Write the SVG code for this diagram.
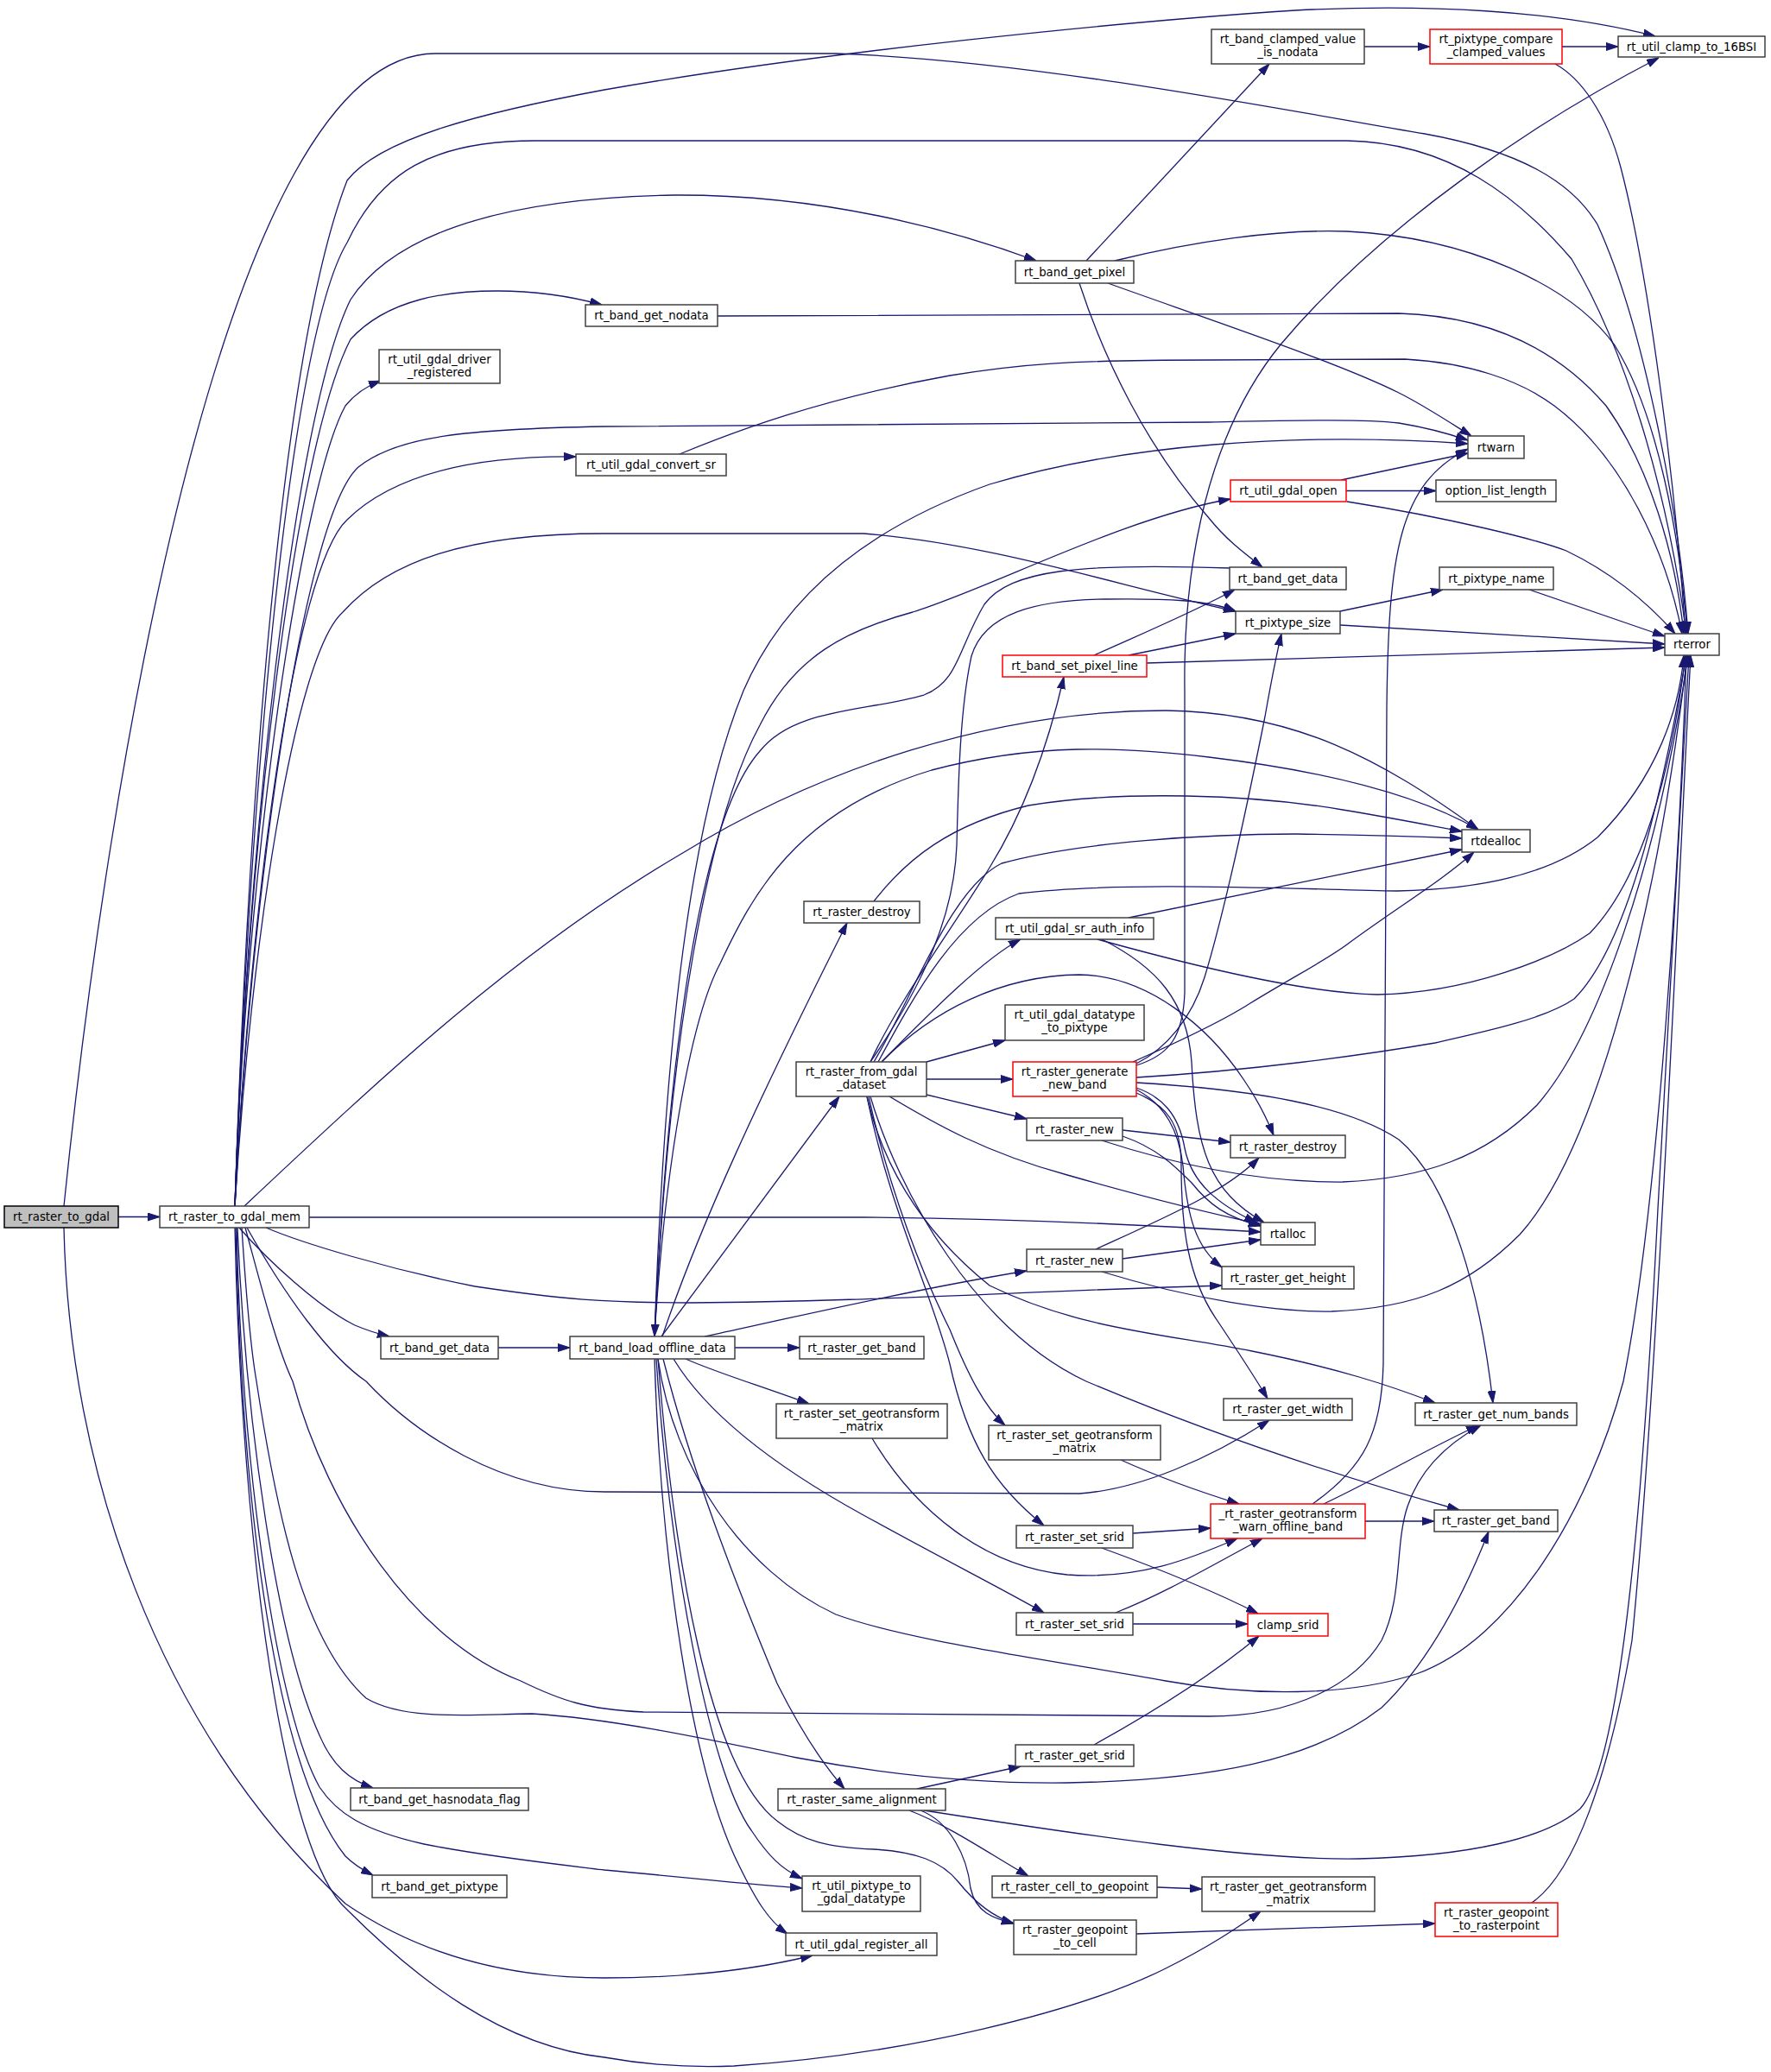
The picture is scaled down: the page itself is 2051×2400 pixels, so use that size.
<svg xmlns="http://www.w3.org/2000/svg" width="2051" height="2400" viewBox="0 0 2051 2400">
<defs>
<marker id="a" markerWidth="14" markerHeight="10" refX="14" refY="5" orient="auto" markerUnits="userSpaceOnUse"><path d="M0,0.5 L14,5 L0,9.5 z" fill="#191970" stroke="#191970" stroke-width="1"/></marker>
<style>
.n rect{fill:#fff;stroke:#404040;stroke-width:1.5}
.n.r rect{stroke:#f00}
.n.root rect{fill:#bfbfbf;stroke:#000}
text{font-family:"DejaVu Sans","Liberation Sans",sans-serif;font-size:13.3px;text-anchor:middle;fill:#000}
#edges path{fill:none;stroke:#191970;stroke-width:1.3;marker-end:url(#a)}
</style>
</defs>
<rect x="0" y="0" width="2051" height="2400" fill="#fff"/>
<g id="edges">
<path d="M137,1409.5 L185,1409.5"/>
<path d="M74,1397 C125,900 260,62 504,62 L968,62 C1200,70 1500,130 1650,155 C1760,175 1820,210 1850,260 C1905,380 1945,600 1955,734"/>
<path d="M74,1422 C80,1700 180,2000 400,2205 C480,2260 580,2291 700,2291 C800,2291 880,2280 941,2265"/>
<path d="M272,1397 C285,1000 320,420 402,209 C440,160 560,130 700,104 C950,60 1300,25 1500,12 C1650,4 1800,12 1917,42"/>
<path d="M272,1397 C285,1000 330,400 402,281 C440,200 500,163 620,163 L1560,163 C1680,165 1760,230 1820,300 C1880,400 1930,560 1953,734"/>
<path d="M272,1397 C285,1000 340,480 406,347 C450,280 560,230 780,226 C950,225 1100,265 1200,302"/>
<path d="M272,1397 C285,1000 340,520 406,393 C450,345 520,337 576,337 C620,337 660,343 697,353"/>
<path d="M272,1397 C285,1000 350,560 400,470 C412,455 425,447 441,441"/>
<path d="M272,1397 C290,1050 350,600 415,541 C460,505 540,497 700,494 L1400,489 C1500,487 1580,485 1620,490 C1650,495 1680,503 1700,510"/>
<path d="M272,1397 C290,1050 340,660 402,602 C460,545 560,528 667,529"/>
<path d="M272,1397 C290,1100 340,760 397,709 C450,650 540,618 700,618 L1000,618 C1150,630 1300,680 1431,708"/>
<path d="M283,1397 C450,1240 600,1100 789,989 C950,890 1150,823 1350,823 C1500,825 1600,880 1712,961"/>
<path d="M358,1410 L1000,1410 C1200,1412 1350,1420 1460,1427"/>
<path d="M308,1422 C350,1440 450,1470 550,1490 C650,1505 700,1509 800,1509 C1000,1508 1200,1495 1415,1489"/>
<path d="M277,1422 C310,1460 370,1515 411,1535 C425,1541 438,1545 451,1548"/>
<path d="M286,1422 C330,1500 380,1570 424,1600 C480,1660 580,1728 700,1728 L1250,1730 C1320,1725 1400,1690 1470,1645"/>
<path d="M284,1422 C300,1480 320,1560 339,1600 C380,1750 480,1900 603,1947 C650,1970 680,1980 745,1983 L1400,1988 C1500,1988 1570,1950 1600,1900 C1625,1850 1615,1790 1630,1745 C1645,1700 1680,1670 1715,1651"/>
<path d="M280,1422 C285,1500 290,1560 297,1600 C320,1750 350,1900 424,1967 C470,1995 560,1985 616,1985 C700,1990 800,2010 923,2036 C1050,2060 1150,2066 1236,2065 C1400,2062 1520,2040 1600,1978 C1650,1930 1690,1860 1724,1774"/>
<path d="M275,1422 C285,1650 320,1900 370,2010 C385,2045 405,2062 432,2071"/>
<path d="M274,1422 C280,1700 320,1980 370,2070 C390,2100 420,2120 491,2136 C560,2150 650,2160 700,2166 C800,2175 870,2183 929,2187"/>
<path d="M273,1422 C280,1750 320,2050 400,2150 C410,2160 420,2166 432,2172"/>
<path d="M272,1422 C280,1800 330,2150 402,2212 C480,2290 580,2370 700,2383 C750,2392 800,2395 850,2393 C1050,2380 1250,2330 1350,2280 C1400,2255 1430,2235 1460,2214"/>
<path d="M577,1561 L660,1561"/>
<path d="M1258,302 L1470,74"/>
<path d="M1291,302 C1380,280 1480,265 1560,268 C1700,275 1820,330 1870,400 C1920,480 1945,620 1954,734"/>
<path d="M1283,328 C1400,370 1550,420 1620,455 C1650,470 1680,490 1704,505"/>
<path d="M1250,328 C1280,420 1330,520 1400,600 C1420,625 1440,640 1462,657"/>
<path d="M831,366 L1620,363 C1720,366 1800,400 1860,470 C1910,540 1940,640 1950,734"/>
<path d="M787,526 C850,500 950,462 1100,435 C1180,422 1236,417 1400,417 L1627,416 C1700,420 1760,440 1800,470 C1880,530 1930,640 1948,734"/>
<path d="M1580,54 L1656,54"/>
<path d="M1809,54 L1874,54"/>
<path d="M1801,74 C1830,90 1860,130 1877,194 C1910,320 1940,560 1952,734"/>
<path d="M1553,556 L1700,525"/>
<path d="M1559,568.5 L1663,568.5"/>
<path d="M1560,581 C1680,600 1780,625 1814,638 C1870,665 1910,700 1940,734"/>
<path d="M1424,658 C1250,652 1170,660 1140,700 C1110,750 1110,790 1070,805 C1000,825 920,820 880,870 C800,960 770,1300 758,1548"/>
<path d="M1771,683 L1928,737"/>
<path d="M1552,708 L1671,683"/>
<path d="M1552,724 L1928,746"/>
<path d="M1267,759 C1320,735 1380,710 1430,683"/>
<path d="M1307,759 L1431,734"/>
<path d="M1328,768 L1928,750"/>
<path d="M1520,1742 C1580,1700 1600,1660 1602,1580 L1606,820 C1608,640 1620,560 1700,520"/>
<path d="M1533,1742 C1600,1710 1650,1680 1712,1651"/>
<path d="M1581,1762 L1661,1762"/>
<path d="M1298,1691 C1340,1710 1380,1725 1435,1742"/>
<path d="M1312,1776 L1402,1770"/>
<path d="M1276,1793 C1350,1820 1410,1845 1457,1869"/>
<path d="M1292,1868 C1350,1845 1400,1815 1462,1782"/>
<path d="M1312,1881 L1445,1881"/>
<path d="M1267,2021 C1350,1975 1410,1935 1458,1895"/>
<path d="M1010,1666 C1060,1750 1140,1815 1236,1824 C1320,1830 1380,1805 1433,1782"/>
<path d="M1062,2072 L1182,2046"/>
<path d="M1070,2097 C1250,2125 1450,2155 1573,2153 C1700,2150 1790,2130 1830,2095 C1880,2040 1905,1700 1920,1400 C1935,1100 1950,900 1956,759"/>
<path d="M1053,2097 C1100,2115 1150,2150 1191,2173"/>
<path d="M1066,2097 C1100,2110 1120,2150 1124,2187 C1130,2215 1150,2222 1174,2228"/>
<path d="M1340,2186 L1392,2188"/>
<path d="M1316,2240 L1662,2228"/>
<path d="M1774,2204 C1823,2170 1863,2059 1890,1900 C1920,1600 1945,1000 1958,759"/>
<path d="M1021,1230 C1080,1170 1140,1110 1182,1088"/>
<path d="M1073,1230 L1164,1205"/>
<path d="M1073,1250 L1173,1250"/>
<path d="M1073,1268 L1189,1296"/>
<path d="M1021,1230 C1080,1170 1160,1130 1250,1129 C1330,1130 1400,1190 1440,1250 C1455,1272 1465,1290 1475,1315"/>
<path d="M1012,1230 C1060,1150 1100,1030 1160,1000 C1250,975 1400,966 1500,966 C1580,967 1640,969 1693,971"/>
<path d="M1017,1230 C1060,1150 1110,1060 1180,1035 C1300,1020 1500,1030 1618,1032 C1720,1030 1800,1010 1850,970 C1920,900 1945,820 1950,759"/>
<path d="M1008,1230 C1070,1140 1105,1060 1108,979 C1110,900 1112,820 1125,760 C1140,710 1200,695 1280,694 C1350,693 1400,695 1431,708"/>
<path d="M1008,1230 C1040,1160 1100,1080 1146,1005 C1180,950 1210,880 1232,784"/>
<path d="M1006,1270 C1030,1380 1070,1480 1100,1540 C1120,1590 1140,1630 1164,1651"/>
<path d="M1004,1270 C1030,1400 1080,1500 1100,1580 C1120,1670 1150,1720 1209,1767"/>
<path d="M1004,1270 C1020,1340 1060,1420 1146,1489 C1250,1540 1350,1545 1450,1565 C1550,1585 1610,1605 1662,1625"/>
<path d="M1008,1270 C1040,1380 1130,1540 1258,1600 C1400,1660 1550,1710 1690,1749"/>
<path d="M1030,1270 C1080,1300 1140,1335 1236,1361 C1320,1385 1400,1405 1460,1418"/>
<path d="M1307,1063 L1693,984"/>
<path d="M1271,1088 C1350,1110 1500,1150 1595,1152 C1700,1150 1800,1110 1841,1081 C1900,1020 1935,900 1952,759"/>
<path d="M1276,1088 C1340,1120 1375,1160 1380,1230 C1385,1330 1400,1380 1464,1416"/>
<path d="M1316,1234 C1355,1222 1370,1200 1372,1150 L1372,800 C1370,650 1400,500 1484,398 C1600,260 1780,140 1921,67"/>
<path d="M1316,1232 C1350,1215 1380,1180 1395,1132 C1420,1050 1445,930 1465,830 C1472,790 1478,760 1484,734"/>
<path d="M1312,1230 C1380,1200 1420,1180 1448,1162 C1500,1130 1540,1110 1564,1091 C1620,1050 1670,1020 1707,987"/>
<path d="M1316,1248 C1450,1240 1580,1222 1662,1208 C1720,1195 1790,1180 1823,1157 C1880,1100 1920,950 1953,759"/>
<path d="M1316,1254 C1450,1262 1560,1280 1620,1320 C1680,1370 1715,1500 1729,1625"/>
<path d="M1316,1260 C1345,1270 1365,1290 1372,1330 C1380,1370 1410,1395 1455,1416"/>
<path d="M1316,1262 C1350,1280 1365,1310 1370,1350 C1375,1410 1385,1445 1415,1468"/>
<path d="M1316,1266 C1350,1280 1368,1300 1368,1350 C1368,1420 1375,1480 1410,1530 C1430,1560 1450,1590 1468,1620"/>
<path d="M1300,1309 L1425,1323"/>
<path d="M1300,1316 C1340,1330 1360,1350 1380,1370 C1400,1395 1420,1410 1460,1420"/>
<path d="M1276,1321 C1350,1345 1450,1370 1555,1369 C1650,1365 1720,1340 1780,1280 C1850,1200 1920,1000 1955,759"/>
<path d="M1269,1447 C1350,1410 1420,1380 1458,1341"/>
<path d="M1300,1458 L1460,1436"/>
<path d="M1276,1473 C1380,1505 1480,1520 1542,1519 C1640,1515 1700,1490 1760,1430 C1850,1330 1920,1050 1954,759"/>
<path d="M1012,1044 C1050,995 1100,955 1191,933 C1300,915 1450,920 1555,938 C1610,947 1650,955 1693,963"/>
<path d="M851,1561 L926,1561"/>
<path d="M816,1548 C900,1530 1050,1495 1189,1472"/>
<path d="M767,1548 C810,1420 880,1270 981,1069"/>
<path d="M766,1548 L972,1270"/>
<path d="M758,1548 C770,1200 800,950 861,800 C900,710 980,620 1146,561 C1300,515 1500,500 1700,514"/>
<path d="M758,1548 C775,1200 820,950 880,840 C920,760 980,730 1057,709 C1150,680 1300,600 1425,578"/>
<path d="M758,1548 C770,1350 800,1180 834,1116 C870,1040 920,940 1079,892 C1200,860 1300,865 1400,877 C1550,895 1650,925 1712,961"/>
<path d="M762,1574 C780,1700 860,1820 968,1870 C1050,1900 1200,1920 1350,1947 C1450,1965 1560,1965 1640,1939 C1750,1900 1840,1750 1880,1600 C1920,1400 1945,1000 1953,759"/>
<path d="M794,1574 C830,1590 880,1605 937,1626"/>
<path d="M780,1574 C820,1640 900,1700 1000,1755 C1100,1810 1160,1840 1209,1868"/>
<path d="M768,1574 C800,1700 850,1830 900,1950 C925,2000 950,2040 978,2072"/>
<path d="M760,1574 C775,1800 820,2050 870,2120 C890,2150 905,2165 929,2176"/>
<path d="M758,1574 C765,1800 800,2050 856,2161 C875,2200 890,2225 912,2240"/>
<path d="M762,1574 C780,1800 820,2050 901,2110 C930,2133 960,2140 1012,2142 C1060,2145 1090,2155 1110,2180 C1130,2205 1150,2220 1174,2228"/>
</g>
<g id="n1" class="n root"><rect x="5" y="1397" width="132" height="25"/><text x="71" y="1414">rt_raster_to_gdal</text></g>
<g id="n2" class="n"><rect x="185" y="1397" width="173" height="25"/><text x="271.5" y="1414">rt_raster_to_gdal_mem</text></g>
<g id="n3" class="n"><rect x="439" y="405" width="140" height="39"/><text x="509" y="420.5">rt_util_gdal_driver</text><text x="509" y="435.5">_registered</text></g>
<g id="n4" class="n"><rect x="678" y="353" width="153" height="25"/><text x="754.5" y="370">rt_band_get_nodata</text></g>
<g id="n5" class="n"><rect x="1176" y="302" width="137" height="26"/><text x="1244.5" y="319.5">rt_band_get_pixel</text></g>
<g id="n6" class="n"><rect x="667" y="526" width="174" height="25"/><text x="754" y="543">rt_util_gdal_convert_sr</text></g>
<g id="n7" class="n"><rect x="1403" y="34" width="177" height="40"/><text x="1491.5" y="49.5">rt_band_clamped_value</text><text x="1491.5" y="64.5">_is_nodata</text></g>
<g id="n8" class="n r"><rect x="1656" y="34" width="153" height="40"/><text x="1732.5" y="49.5">rt_pixtype_compare</text><text x="1732.5" y="64.5">_clamped_values</text></g>
<g id="n9" class="n"><rect x="1874" y="42" width="170" height="24"/><text x="1959" y="58.5">rt_util_clamp_to_16BSI</text></g>
<g id="n10" class="n"><rect x="1700" y="505" width="65" height="26"/><text x="1732.5" y="522.5">rtwarn</text></g>
<g id="n11" class="n r"><rect x="1425" y="556" width="134" height="25"/><text x="1492" y="573">rt_util_gdal_open</text></g>
<g id="n12" class="n"><rect x="1663" y="556" width="139" height="25"/><text x="1732.5" y="573">option_list_length</text></g>
<g id="n13" class="n"><rect x="1424" y="657" width="135" height="26"/><text x="1491.5" y="674.5">rt_band_get_data</text></g>
<g id="n14" class="n"><rect x="1667" y="657" width="132" height="26"/><text x="1733" y="674.5">rt_pixtype_name</text></g>
<g id="n15" class="n"><rect x="1431" y="708" width="121" height="26"/><text x="1491.5" y="725.5">rt_pixtype_size</text></g>
<g id="n16" class="n"><rect x="1928" y="734" width="63" height="25"/><text x="1959.5" y="751">rterror</text></g>
<g id="n17" class="n r"><rect x="1161" y="759" width="167" height="25"/><text x="1244.5" y="776">rt_band_set_pixel_line</text></g>
<g id="n18" class="n"><rect x="1693" y="961" width="79" height="26"/><text x="1732.5" y="978.5">rtdealloc</text></g>
<g id="n19" class="n"><rect x="931" y="1044" width="134" height="25"/><text x="998" y="1061">rt_raster_destroy</text></g>
<g id="n20" class="n"><rect x="1153" y="1063" width="183" height="25"/><text x="1244.5" y="1080">rt_util_gdal_sr_auth_info</text></g>
<g id="n21" class="n"><rect x="1164" y="1164" width="161" height="41"/><text x="1244.5" y="1180">rt_util_gdal_datatype</text><text x="1244.5" y="1195">_to_pixtype</text></g>
<g id="n22" class="n"><rect x="922" y="1230" width="151" height="40"/><text x="997.5" y="1245.5">rt_raster_from_gdal</text><text x="997.5" y="1260.5">_dataset</text></g>
<g id="n23" class="n r"><rect x="1173" y="1230" width="143" height="40"/><text x="1244.5" y="1245.5">rt_raster_generate</text><text x="1244.5" y="1260.5">_new_band</text></g>
<g id="n24" class="n"><rect x="1189" y="1295" width="111" height="26"/><text x="1244.5" y="1312.5">rt_raster_new</text></g>
<g id="n25" class="n"><rect x="1189" y="1447" width="111" height="26"/><text x="1244.5" y="1464.5">rt_raster_new</text></g>
<g id="n26" class="n"><rect x="660" y="1548" width="191" height="26"/><text x="755.5" y="1565.5">rt_band_load_offline_data</text></g>
<g id="n27" class="n"><rect x="926" y="1548" width="144" height="26"/><text x="998" y="1565.5">rt_raster_get_band</text></g>
<g id="n28" class="n"><rect x="441" y="1548" width="136" height="26"/><text x="509" y="1565.5">rt_band_get_data</text></g>
<g id="n29" class="n"><rect x="1425" y="1315" width="133" height="26"/><text x="1491.5" y="1332.5">rt_raster_destroy</text></g>
<g id="n30" class="n"><rect x="1460" y="1416" width="63" height="26"/><text x="1491.5" y="1433.5">rtalloc</text></g>
<g id="n31" class="n"><rect x="1415" y="1467" width="153" height="26"/><text x="1491.5" y="1484.5">rt_raster_get_height</text></g>
<g id="n32" class="n"><rect x="899" y="1626" width="198" height="40"/><text x="998" y="1641.5">rt_raster_set_geotransform</text><text x="998" y="1656.5">_matrix</text></g>
<g id="n33" class="n"><rect x="1145" y="1651" width="199" height="40"/><text x="1244.5" y="1666.5">rt_raster_set_geotransform</text><text x="1244.5" y="1681.5">_matrix</text></g>
<g id="n34" class="n"><rect x="1177" y="1767" width="135" height="26"/><text x="1244.5" y="1784.5">rt_raster_set_srid</text></g>
<g id="n35" class="n"><rect x="1177" y="1868" width="135" height="26"/><text x="1244.5" y="1885.5">rt_raster_set_srid</text></g>
<g id="n36" class="n"><rect x="1176" y="2021" width="137" height="25"/><text x="1244.5" y="2038">rt_raster_get_srid</text></g>
<g id="n37" class="n"><rect x="901" y="2072" width="194" height="25"/><text x="998" y="2089">rt_raster_same_alignment</text></g>
<g id="n38" class="n"><rect x="1149" y="2173" width="191" height="25"/><text x="1244.5" y="2190">rt_raster_cell_to_geopoint</text></g>
<g id="n39" class="n"><rect x="1174" y="2224" width="142" height="40"/><text x="1245" y="2239.5">rt_raster_geopoint</text><text x="1245" y="2254.5">_to_cell</text></g>
<g id="n40" class="n"><rect x="929" y="2173" width="137" height="41"/><text x="997.5" y="2189">rt_util_pixtype_to</text><text x="997.5" y="2204">_gdal_datatype</text></g>
<g id="n41" class="n"><rect x="910" y="2239" width="175" height="26"/><text x="997.5" y="2256.5">rt_util_gdal_register_all</text></g>
<g id="n42" class="n"><rect x="406" y="2071" width="206" height="26"/><text x="509" y="2088.5">rt_band_get_hasnodata_flag</text></g>
<g id="n43" class="n"><rect x="431" y="2172" width="156" height="26"/><text x="509" y="2189.5">rt_band_get_pixtype</text></g>
<g id="n44" class="n"><rect x="1417" y="1620" width="149" height="25"/><text x="1491.5" y="1637">rt_raster_get_width</text></g>
<g id="n45" class="n"><rect x="1639" y="1625" width="187" height="26"/><text x="1732.5" y="1642.5">rt_raster_get_num_bands</text></g>
<g id="n46" class="n r"><rect x="1402" y="1742" width="179" height="40"/><text x="1491.5" y="1757.5">_rt_raster_geotransform</text><text x="1491.5" y="1772.5">_warn_offline_band</text></g>
<g id="n47" class="n"><rect x="1661" y="1749" width="143" height="25"/><text x="1732.5" y="1766">rt_raster_get_band</text></g>
<g id="n48" class="n r"><rect x="1445" y="1869" width="93" height="26"/><text x="1491.5" y="1886.5">clamp_srid</text></g>
<g id="n49" class="n"><rect x="1392" y="2174" width="200" height="40"/><text x="1492" y="2189.5">rt_raster_get_geotransform</text><text x="1492" y="2204.5">_matrix</text></g>
<g id="n50" class="n r"><rect x="1662" y="2204" width="142" height="39"/><text x="1733" y="2219.5">rt_raster_geopoint</text><text x="1733" y="2234.5">_to_rasterpoint</text></g>
</svg>
